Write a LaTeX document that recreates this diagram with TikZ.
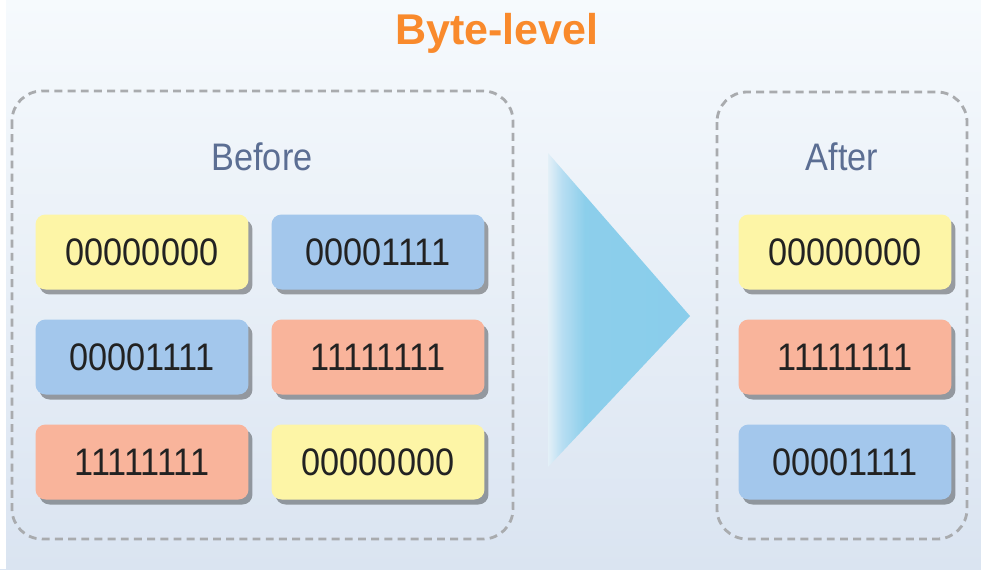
\documentclass[tikz,border=0pt]{standalone}
\usepackage{fontspec}
\setmainfont{Liberation Sans}
\usetikzlibrary{shadows}
\definecolor{bgtop}{HTML}{F6FAFD}
\definecolor{bgbot}{HTML}{DAE4F1}
\definecolor{titleor}{HTML}{F98A2C}
\definecolor{headblue}{HTML}{5B6E93}
\definecolor{byteyel}{HTML}{FDF5A6}
\definecolor{byteblu}{HTML}{A3C7EC}
\definecolor{bytesal}{HTML}{F9B49B}
\definecolor{dashgray}{HTML}{A9ABAE}
\definecolor{bytetext}{HTML}{222222}
\pgfdeclarehorizontalshading{trishade}{100bp}{
  rgb(0bp)=(0.89,0.94,0.97);
  rgb(25bp)=(0.89,0.94,0.97);
  rgb(30bp)=(0.72,0.87,0.95);
  rgb(38bp)=(0.55,0.81,0.92);
  rgb(100bp)=(0.53,0.80,0.92)}
\newcommand{\tallt}[1]{\scalebox{1}[1.12]{#1}}
\begin{document}
\begin{tikzpicture}[x=0.02cm,y=-0.02cm,
  frame/.style={draw=dashgray, line width=1.6pt, dash pattern=on 4.5pt off 3pt, rounded corners=0.6cm},
  bytebox/.style={rounded corners=0.2cm, minimum width=4.26cm, minimum height=1.5cm,
    text=bytetext, font=\fontsize{19.5}{20}\selectfont, inner sep=0pt,
    drop shadow={shadow xshift=0.08cm, shadow yshift=-0.1cm, fill=black, opacity=0.35}},
  yel/.style={bytebox, fill=byteyel},
  blu/.style={bytebox, fill=byteblu},
  sal/.style={bytebox, fill=bytesal},
  head/.style={text=headblue, font=\fontsize{19.5}{20}\selectfont}]
\useasboundingbox (0,0) rectangle (981,569);
\shade[top color=bgtop, bottom color=bgbot] (0,0) rectangle (981,569);
\fill[white] (0,0) rectangle (6,569);
\node[text=titleor, font=\bfseries\fontsize{24.5}{26}\selectfont] (title) at (497,33) {Byte-level};
% frames
\draw[frame] (12,91) rectangle (513,539);
\draw[frame] (717,92) rectangle (967,539);
\node[head] (before) at (262,157) {\tallt{Before}};
\node[head] (after) at (842,157) {\tallt{After}};
% triangle
\shade[shading=trishade] (548,153) -- (690,316) -- (548,467) -- cycle;
% left bytes
\node[yel] (b11) at (142,252) {\tallt{00000000}};
\node[blu] (b12) at (378,252) {\tallt{00001111}};
\node[blu] (b21) at (142,357) {\tallt{00001111}};
\node[sal] (b22) at (378,357) {\tallt{11111111}};
\node[sal] (b31) at (142,462) {\tallt{11111111}};
\node[yel] (b32) at (378,462) {\tallt{00000000}};
% right bytes
\node[yel] (a1) at (845,252) {\tallt{00000000}};
\node[sal] (a2) at (845,357) {\tallt{11111111}};
\node[blu] (a3) at (845,462) {\tallt{00001111}};
\end{tikzpicture}
\end{document}
